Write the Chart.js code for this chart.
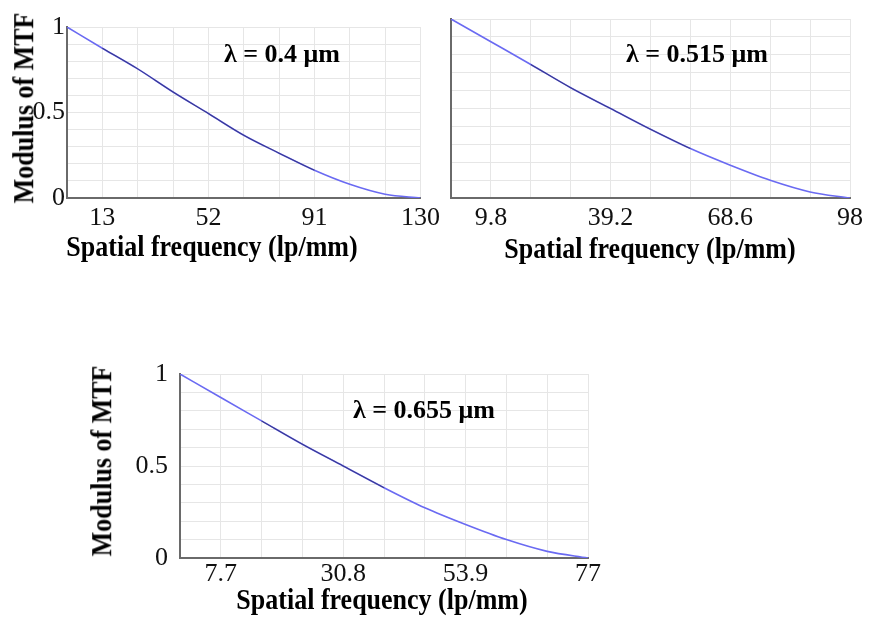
<!DOCTYPE html>
<html>
<head>
<meta charset="utf-8">
<script src="https://cdn.jsdelivr.net/npm/chart.js@4/dist/chart.umd.min.js"></script>
<style>
  html, body { margin: 0; padding: 0; background: #fff; }
  body { position: relative; width: 872px; height: 618px; overflow: hidden; }
  canvas { position: absolute; }
  .lbl {
    position: absolute;
    font: bold 26px "Liberation Serif", "Times New Roman", serif;
    color: #000;
    white-space: nowrap;
    transform: translate(-50%, -50%);
  }
  .ttl { transform: translate(-50%, -50%) scaleY(1.1); }
  .rot { transform: translate(-50%, -50%) rotate(-90deg) scaleY(1.12); }
</style>
</head>
<body>
<canvas id="c1" width="445" height="265" style="left:0;top:0"></canvas>
<canvas id="c2" width="432" height="265" style="left:440px;top:0"></canvas>
<canvas id="c3" width="530" height="278" style="left:80px;top:340px"></canvas>

<div class="lbl rot" style="left:24px;top:108px">Modulus of MTF</div>
<div class="lbl ttl" style="left:212px;top:247px">Spatial frequency (lp/mm)</div>
<div class="lbl" style="left:282px;top:54px">λ = 0.4 μm</div>

<div class="lbl ttl" style="left:650px;top:249px">Spatial frequency (lp/mm)</div>
<div class="lbl" style="left:697px;top:54px">λ = 0.515 μm</div>

<div class="lbl rot" style="left:102px;top:461px">Modulus of MTF</div>
<div class="lbl ttl" style="left:382px;top:600px">Spatial frequency (lp/mm)</div>
<div class="lbl" style="left:424px;top:410px">λ = 0.655 μm</div>

<script>
// spatial frequency samples (lp/mm) and MTF
const freq1 = [0, 13, 26, 39, 52, 65, 78, 91, 104, 117, 130];
const mtf1  = [1, 0.876, 0.755, 0.62, 0.494, 0.367, 0.262, 0.162, 0.08, 0.022, 0];
const dark1 = [null, 0.876, 0.755, 0.62, 0.494, 0.367, 0.262, 0.162, null, null, null];
const xTicks1 = [13, 52, 91, 130];

const freq2 = [0, 9.8, 19.6, 29.4, 39.2, 49, 58.8, 68.6, 78.4, 88.2, 98];
const mtf2  = [1, 0.873, 0.746, 0.616, 0.5, 0.384, 0.276, 0.183, 0.099, 0.034, 0];
const dark2 = [null, null, 0.746, 0.616, 0.5, 0.384, 0.276, null, null, null, null];
const xTicks2 = [9.8, 39.2, 68.6, 98];

const freq3 = [0, 7.7, 15.4, 23.1, 30.8, 38.5, 46.2, 53.9, 61.6, 69.3, 77];
const mtf3  = [1, 0.872, 0.745, 0.618, 0.5, 0.382, 0.273, 0.182, 0.1, 0.036, 0];
const dark3 = [null, null, 0.745, 0.618, 0.5, 0.382, null, null, null, null, null];
const xTicks3 = [7.7, 30.8, 53.9, 77];

const yGrid  = [0, 0.1, 0.2, 0.3, 0.4, 0.5, 0.6, 0.7, 0.8, 0.9, 1];
const yTicks = [0, 0.5, 1];

const FONT = "'Liberation Serif', 'Times New Roman', serif";
const GRID = "#e6e6e6";
const AXIS = "#6a6a6a";

function pts(xs, ys) {
  return xs.map((x, i) => ({ x: x, y: ys[i] }));
}

function matchLabel(list, v) {
  const hit = list.find(t => Math.abs(t - v) < 1e-6);
  return hit === undefined ? "" : String(hit);
}

function mtfChart(id, o) {
  return new Chart(document.getElementById(id), {
    type: "line",
    data: {
      datasets: [
        {
          data: pts(o.freq, o.dark),
          borderColor: "rgba(25,25,80,0.6)",
          borderWidth: 1.1,
          pointRadius: 0,
          cubicInterpolationMode: "monotone",
          spanGaps: false
        },
        {
          data: pts(o.freq, o.mtf),
          borderColor: "#6a6af2",
          borderWidth: 1.6,
          pointRadius: 0,
          cubicInterpolationMode: "monotone"
        }
      ]
    },
    options: {
      responsive: false,
      animation: false,
      events: [],
      layout: { padding: { left: 0, top: o.top, right: o.right, bottom: 0 } },
      plugins: { legend: { display: false }, tooltip: { enabled: false } },
      scales: {
        x: {
          type: "linear",
          min: 0,
          max: o.freq[o.freq.length - 1],
          afterBuildTicks: s => { s.ticks = o.freq.map(v => ({ value: v })); },
          afterFit: s => { s.height = o.xh; },
          grid: { color: GRID, lineWidth: 1, drawTicks: false },
          border: { display: true, color: AXIS, width: 2 },
          ticks: {
            autoSkip: false,
            maxRotation: 0,
            padding: o.xpad,
            color: "#111",
            font: { family: FONT, size: 26 },
            callback: v => matchLabel(o.xTicks, v)
          }
        },
        y: {
          min: 0,
          max: 1,
          afterBuildTicks: s => { s.ticks = yGrid.map(v => ({ value: v })); },
          afterFit: s => { s.width = o.yw; },
          grid: { color: GRID, lineWidth: 1, drawTicks: false },
          border: { display: true, color: AXIS, width: 2 },
          ticks: {
            display: o.yLabels,
            autoSkip: false,
            padding: o.ypad,
            color: "#111",
            font: { family: FONT, size: 26 },
            callback: v => matchLabel(yTicks, v)
          }
        }
      }
    }
  });
}

mtfChart("c1", { freq: freq1, mtf: mtf1, dark: dark1, xTicks: xTicks1,
  top: 27, right: 20, xh: 67, yw: 67, xpad: 5, ypad: 2, yLabels: true });
mtfChart("c2", { freq: freq2, mtf: mtf2, dark: dark2, xTicks: xTicks2,
  top: 19, right: 22, xh: 67, yw: 11, xpad: 5, ypad: 2, yLabels: false });
mtfChart("c3", { freq: freq3, mtf: mtf3, dark: dark3, xTicks: xTicks3,
  top: 34, right: 22, xh: 60, yw: 100, xpad: 1, ypad: 12, yLabels: true });
</script>
</body>
</html>
